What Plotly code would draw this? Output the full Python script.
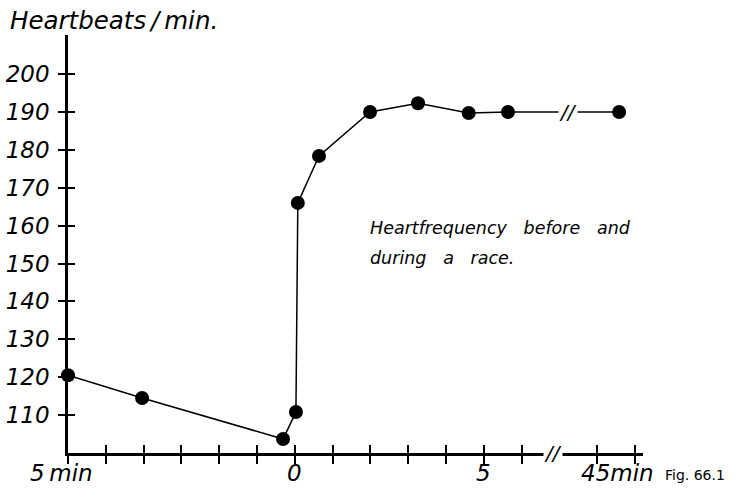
import plotly.graph_objects as go

# positions along the (non-uniform) hand-drawn time axis, in tick units
time_pos = [0, 1.96, 5.69, 6.03, 6.08, 6.64, 7.99, 9.26, 10.6, 11.64, 14.58]
heartbeats = [120.5, 114.5, 103.7, 110.8, 166, 178.4, 190, 192.3, 189.7, 190, 190]

x_tick_pos = [0, 1, 2, 3, 4, 5, 6, 7, 8, 9, 10, 11, 12, 14, 15]
x_label_pos = [-0.16, 6, 11, 14.55]
x_label_text = ["5\u202fmin", "0", "5", "45min"]
y_ticks = [110, 120, 130, 140, 150, 160, 170, 180, 190, 200]

FONT = "DejaVu Sans"
W, H = 735, 494
ML, MR, MT, MB = 68, 92, 35, 41
PX_PER_TICK = 37.8
x_range = [0, (W - ML - MR) / PX_PER_TICK]
y_range = [100, 210.3]


def px_x(u):
    """tick-unit position -> paper fraction"""
    return (u - x_range[0]) / (x_range[1] - x_range[0])


fig = go.Figure()
fig.add_trace(go.Scatter(
    x=time_pos, y=heartbeats, mode="lines+markers",
    line=dict(color="black", width=1.5),
    marker=dict(color="black", size=14),
    cliponaxis=False, showlegend=False, hoverinfo="skip"))
# invisible trace on overlay axes (inside tick marks)
fig.add_trace(go.Scatter(x=[time_pos[0]], y=[heartbeats[0]], xaxis="x2", yaxis="y2",
                         mode="markers", marker=dict(opacity=0), showlegend=False, hoverinfo="skip"))

tickfont = dict(family=FONT, size=23, color="black", style="italic")
fig.update_layout(
    width=W, height=H, margin=dict(l=ML, r=MR, t=MT, b=MB, autoexpand=False),
    paper_bgcolor="white", plot_bgcolor="white",
    xaxis=dict(range=x_range, tickvals=x_tick_pos, ticktext=[""] * len(x_tick_pos),
               ticks="outside", ticklen=8, tickwidth=2, tickcolor="black", automargin=False,
               showline=True, linecolor="black", linewidth=2.5, showgrid=False, zeroline=False),
    yaxis=dict(range=y_range, tickvals=y_ticks, ticks="outside", ticklen=7, tickwidth=2,
               tickcolor="black", tickfont=tickfont, ticklabelstandoff=4, automargin=False,
               showline=True, linecolor="black", linewidth=2.5, showgrid=False, zeroline=False),
    xaxis2=dict(range=x_range, overlaying="x", anchor="y2", side="bottom", tickvals=x_tick_pos,
                showticklabels=False, ticks="inside", ticklen=8, tickwidth=2, tickcolor="black",
                showline=False, showgrid=False, zeroline=False, automargin=False),
    yaxis2=dict(range=y_range, overlaying="y", anchor="x2", side="left", tickvals=y_ticks,
                showticklabels=False, ticks="inside", ticklen=7, tickwidth=2, tickcolor="black",
                showline=False, showgrid=False, zeroline=False, automargin=False),
)

for xp, txt in zip(x_label_pos, x_label_text):
    fig.add_annotation(x=px_x(xp), y=0, xref="paper", yref="paper", text=txt, showarrow=False,
                       xanchor="center", yanchor="middle", yshift=-20,
                       font=dict(family=FONT, size=23, style="italic", color="black"))

fig.add_annotation(x=px_x(-1.6), y=1.035, xref="paper", yref="paper", xanchor="left", yanchor="middle",
                   text="Heartbeats\u2009/\u2009min.", showarrow=False,
                   font=dict(family=FONT, size=24.5, style="italic", color="black"))

nb = "\u00a0"
fig.add_annotation(x=7.93, y=159.4, xref="x", yref="y", xanchor="left", yanchor="middle",
                   text=f"Heartfrequency{nb*3}before{nb*3}and", showarrow=False,
                   font=dict(family=FONT, size=17.5, style="italic", color="black"))
fig.add_annotation(x=7.93, y=151.5, xref="x", yref="y", xanchor="left", yanchor="middle",
                   text=f"during{nb*3}a{nb*3}race.", showarrow=False,
                   font=dict(family=FONT, size=17.5, style="italic", color="black"))

fig.add_annotation(x=px_x(15.74), y=0, xref="paper", yref="paper", xanchor="left", yanchor="middle",
                   yshift=-22, text="Fig. 66.1", showarrow=False,
                   font=dict(family=FONT, size=14, color="black"))

# break marks
for bx, by in [(13.23, 190), (12.83, 100)]:
    fig.add_annotation(x=bx, y=by, xref="x", yref="y", text="//", showarrow=False,
                       bgcolor="white", borderpad=0,
                       font=dict(family=FONT, size=20, style="italic", color="black"))

fig.write_html("out.html", config={"displayModeBar": False},
               post_script="document.body.style.margin='0';document.body.style.overflow='hidden';")
